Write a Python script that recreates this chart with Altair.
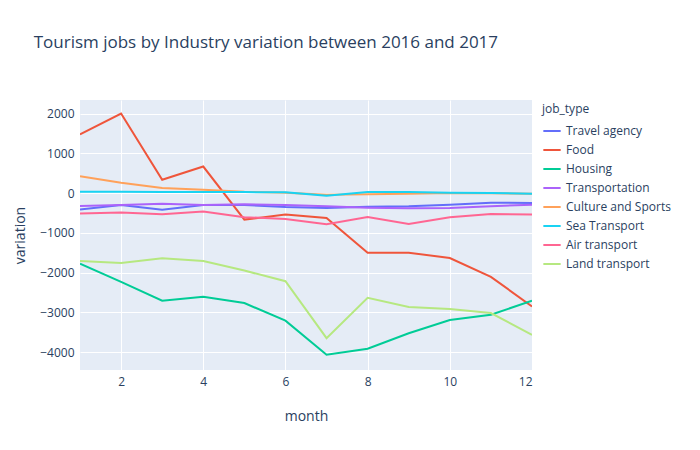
import altair as alt
import pandas as pd

months = list(range(1, 13))
job_types = ["Travel agency", "Food", "Housing", "Transportation",
             "Culture and Sports", "Sea Transport", "Air transport", "Land transport"]
colors = ["#636efa", "#EF553B", "#00cc96", "#ab63fa",
          "#FFA15A", "#19d3f3", "#FF6692", "#B6E880"]

travel_agency = [-417, -300, -417, -300, -300, -350, -375, -342, -333, -292, -242, -250]
food = [1475, 2000, 333, 667, -667, -540, -625, -1500, -1500, -1633, -2108, -2850]
housing = [-1775, -2233, -2708, -2608, -2767, -3208, -4067, -3917, -3525, -3192, -3058, -2708]
transportation = [-325, -300, -267, -300, -283, -300, -333, -367, -383, -375, -333, -292]
culture = [425, 258, 125, 83, 33, 8, -42, -33, -17, 0, -8, -17]
sea = [33, 33, 25, 25, 25, 17, -67, 25, 25, 8, 0, -17]
air = [-517, -492, -533, -467, -608, -650, -783, -600, -775, -608, -525, -542]
land = [-1708, -1758, -1642, -1708, -1950, -2217, -3650, -2633, -2867, -2917, -3017, -3567]

series = [travel_agency, food, housing, transportation, culture, sea, air, land]
rows = []
for name, vals in zip(job_types, series):
    for m, v in zip(months, vals):
        rows.append({"month": m, "variation": v, "job_type": name})
df = pd.DataFrame(rows)

font = "Open Sans"
txt = "#2a3f5f"

chart = alt.Chart(df).mark_line(strokeWidth=2, clip=True).encode(
    x=alt.X("month:Q", scale=alt.Scale(domain=[1, 12], nice=False, zero=False),
            axis=alt.Axis(values=[2, 4, 6, 8, 10, 12], titlePadding=22)),
    y=alt.Y("variation:Q", scale=alt.Scale(domain=[-4450, 2340], nice=False),
            axis=alt.Axis(values=[-4000, -3000, -2000, -1000, 0, 1000, 2000],
                          format="d", titlePadding=12)),
    color=alt.Color("job_type:N", sort=job_types,
                    scale=alt.Scale(domain=job_types, range=colors),
                    legend=alt.Legend(orient="none", legendX=462, legendY=4,
                                      symbolType="stroke", symbolStrokeWidth=2,
                                      symbolSize=300, rowPadding=3)),
    order=alt.Order("month:Q"),
).properties(
    width=452, height=270,
    autosize=alt.AutoSizeParams(type="none"),
    padding={"left": 72, "top": 92, "right": 160, "bottom": 72},
    title=alt.Title("Tourism jobs by Industry variation between 2016 and 2017",
                    anchor="start", dx=20, offset=48, fontSize=17,
                    fontWeight="normal", color=txt, font=font),
).configure_view(fill="#e5ecf6", stroke=None).configure_axis(
    grid=True, gridColor="white", gridWidth=1, domain=False, ticks=False,
    labelFont=font, labelFontSize=12, labelColor=txt, labelPadding=6,
    titleFont=font, titleFontSize=14, titleFontWeight="normal", titleColor=txt,
).configure_legend(
    labelFont=font, labelFontSize=12, labelColor=txt,
    titleFont=font, titleFontSize=12, titleFontWeight="normal", titleColor=txt,
)

chart.save("out.html", embed_options={"renderer": "svg", "actions": False})
